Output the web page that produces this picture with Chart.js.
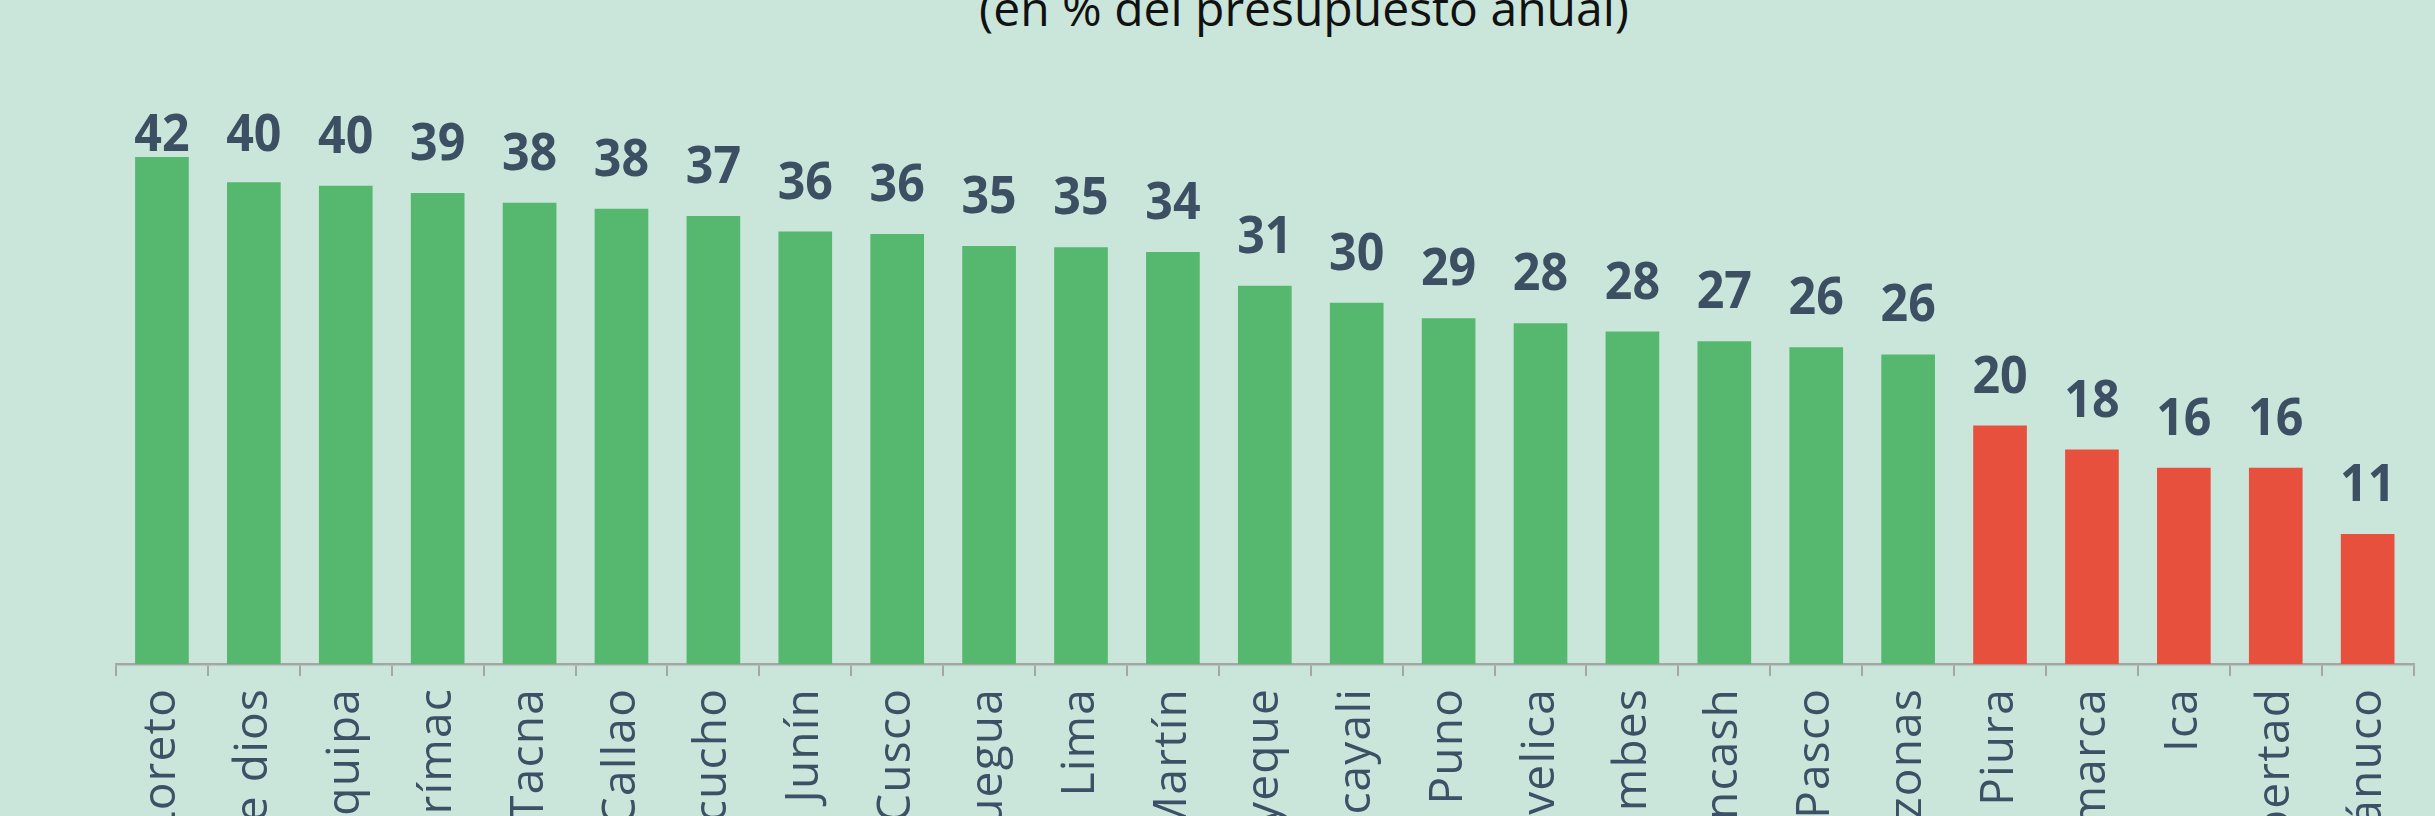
<!DOCTYPE html>
<html lang="es">
<head>
    <meta charset="UTF-8">
    <title>Ejecución del presupuesto por región</title>
    <script src="https://cdn.jsdelivr.net/npm/chart.js"></script>
    <style>
        html, body {
            margin: 0;
            padding: 0;
            width: 2435px;
            height: 816px;
            overflow: hidden;
            background: #cae6da;
        }
        #subtitulo {
            position: absolute;
            top: -16px;
            left: 1304px;
            transform: translateX(-50%);
            white-space: nowrap;
            font-family: "Open Sans", sans-serif;
            font-weight: 400;
            font-size: 48px;
            line-height: 1;
            color: #111;
        }
        #caja {
            position: absolute;
            top: 0;
            left: 0;
            width: 2435px;
            height: 816px;
        }
    </style>
</head>
<body>

<div id="subtitulo">(en % del presupuesto anual)</div>
<div id="caja">
    <canvas id="grafico"></canvas>
</div>

<script>
// datos
const regiones = ['Loreto', 'Madre de dios', 'Arequipa', 'Apurímac', 'Tacna', 'Callao', 'Ayacucho',
    'Junín', 'Cusco', 'Moquegua', 'Lima', 'San Martín', 'Lambayeque', 'Ucayali', 'Puno',
    'Huancavelica', 'Tumbes', 'Áncash', 'Pasco', 'Amazonas', 'Piura', 'Cajamarca', 'Ica',
    'La Libertad', 'Huánuco'];

const ejecucion = [42.1, 40.0, 39.7, 39.1, 38.3, 37.8, 37.2, 35.9, 35.7, 34.7, 34.6, 34.2,
    31.4, 30.0, 28.7, 28.3, 27.6, 26.8, 26.3, 25.7, 19.8, 17.8, 16.3, 16.3, 10.8];

const umbral = 25;   // debajo de esto va en rojo
const verde = '#55b86e';
const rojo = '#e8503e';

let colores = ejecucion.map(v => v < umbral ? rojo : verde);

// un poco de espacio entre letras para las regiones
const espaciado = {
    id: 'espaciado',
    beforeDraw(chart) {
        chart.ctx.letterSpacing = '1.2px';
    },
    afterDraw(chart) {
        chart.ctx.letterSpacing = '0px';
    }
};

// etiquetas de valor encima de cada barra (sin salirse por arriba del area)
const etiquetasValor = {
    id: 'etiquetasValor',
    afterDatasetsDraw(chart) {
        const ctx = chart.ctx;
        const meta = chart.getDatasetMeta(0);
        const tope = chart.chartArea.top + 29;
        ctx.save();
        ctx.letterSpacing = '0px';
        ctx.font = '700 52px "Open Sans"';
        ctx.fillStyle = '#3d4f63';
        ctx.textAlign = 'center';
        ctx.textBaseline = 'alphabetic';
        meta.data.forEach((barra, i) => {
            let y = Math.max(barra.y - 33, tope);
            ctx.save();
            ctx.translate(barra.x, y);
            ctx.scale(0.93, 1);
            ctx.fillText(Math.round(ejecucion[i]), 0, 0);
            ctx.restore();
        });
        ctx.restore();
    }
};

const config = {
    type: 'bar',
    data: {
        labels: regiones,
        datasets: [{
            data: ejecucion,
            backgroundColor: colores,
            barPercentage: 0.584,
            categoryPercentage: 1.0
        }]
    },
    options: {
        responsive: true,
        maintainAspectRatio: false,
        animation: false,
        layout: {
            padding: { top: 122, left: 116, right: 7, bottom: 0 }
        },
        plugins: {
            legend: { display: false },
            tooltip: { enabled: false }
        },
        scales: {
            x: {
                afterFit: (eje) => { eje.height = 152; },
                border: { color: '#a6a6a6', width: 2.5 },
                grid: {
                    offset: true,
                    drawOnChartArea: false,
                    drawTicks: true,
                    tickLength: 12,
                    color: '#a6a6a6',
                    lineWidth: 2
                },
                ticks: {
                    autoSkip: false,
                    minRotation: 90,
                    maxRotation: 90,
                    padding: 12,
                    color: '#3d5166',
                    font: { family: 'Open Sans', weight: 400, size: 46 }
                }
            },
            y: {
                display: false,
                min: 0,
                max: 45
            }
        }
    },
    plugins: [espaciado, etiquetasValor]
};

let miGrafico = new Chart(document.getElementById('grafico'), config);
</script>
</body>
</html>
